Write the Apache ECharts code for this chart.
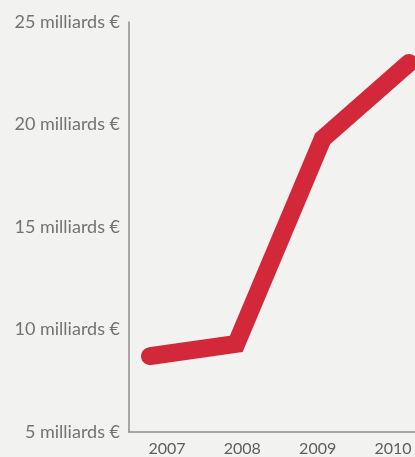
<!DOCTYPE html>
<html>
<head>
<meta charset="utf-8">
<script src="https://cdn.jsdelivr.net/npm/echarts@6/dist/echarts.min.js"></script>
<style>
  html, body { margin: 0; padding: 0; background: #f2f2f0; }
  #chart { width: 415px; height: 457px; }
</style>
</head>
<body>
<div id="chart"></div>
<script>
// data
const years = ['2007', '2008', '2009', '2010'];
const yearValues = [2007, 2008, 2009, 2010];
const amounts = [8.7, 9.3, 19.3, 23.0];
const yTicks = [5, 10, 15, 20, 25];

const chart = echarts.init(document.getElementById('chart'));

chart.setOption({
    backgroundColor: '#f2f2f0',
    animation: false,
    grid: [
        { left: 129, right: 0, top: 22, bottom: 25 },
        // second grid only carries the year labels, which sit a bit left of the points
        { left: 167, right: 22, top: 22, bottom: 25 },
    ],
    xAxis: [
        {
            type: 'value',
            gridIndex: 0,
            min: 2006.757,
            max: 2010.07,
            axisLine: { show: true, lineStyle: { color: '#8e8e8e', width: 1.5 } },
            axisTick: { show: false },
            axisLabel: { show: false },
            splitLine: { show: false },
        },
        {
            type: 'category',
            gridIndex: 1,
            data: years,
            boundaryGap: false,
            axisLine: { show: false },
            axisTick: { show: false },
            axisLabel: {
                margin: 14,
                fontFamily: 'Lato',
                fontSize: 16,
                color: '#5e5e5e',
            },
        },
    ],
    yAxis: [
        {
            type: 'value',
            gridIndex: 0,
            min: yTicks[0],
            max: yTicks[yTicks.length - 1],
            interval: 5,
            axisLine: { show: true, lineStyle: { color: '#8e8e8e', width: 1.5 } },
            axisTick: { show: false },
            splitLine: { show: false },
            axisLabel: {
                margin: 9,
                fontFamily: 'Lato',
                fontSize: 18,
                color: '#737373',
                formatter: '{value} milliards €',
            },
        },
        { type: 'value', gridIndex: 1, show: false },
    ],
    series: [
        {
            type: 'line',
            xAxisIndex: 0,
            yAxisIndex: 0,
            data: yearValues.map((y, i) => [y, amounts[i]]),
            symbol: 'none',
            clip: false,
            lineStyle: {
                color: '#d3283a',
                width: 18,
                cap: 'round',
                join: 'miter',
            },
        },
    ],
});
</script>
</body>
</html>
